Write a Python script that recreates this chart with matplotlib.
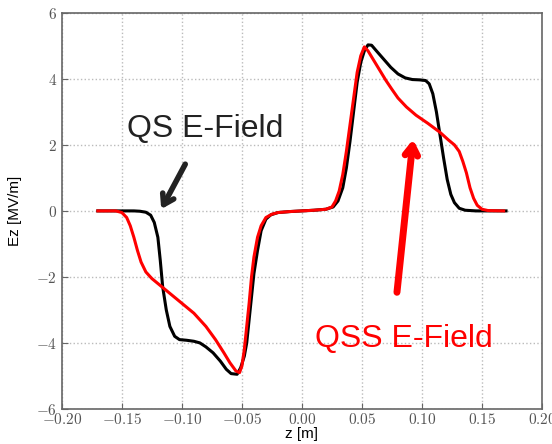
import matplotlib
matplotlib.use("Agg")
import matplotlib.pyplot as plt
from matplotlib.ticker import FuncFormatter

plt.rcParams['mathtext.fontset'] = 'cm'

# QS E-field (black)
qs_z = [-0.170, -0.140, -0.135, -0.130, -0.126, -0.123, -0.120, -0.118, -0.116, -0.113,
        -0.110, -0.106, -0.102, -0.096, -0.090, -0.085, -0.080, -0.074, -0.068, -0.063,
        -0.059, -0.054, -0.051, -0.048, -0.046, -0.044, -0.042, -0.040, -0.037, -0.034,
        -0.030, -0.026, -0.020, -0.010, 0.0, 0.010, 0.020, 0.026, 0.030, 0.034,
        0.037, 0.040, 0.043, 0.046, 0.049, 0.052, 0.055, 0.058, 0.062, 0.068,
        0.074, 0.080, 0.086, 0.092, 0.098, 0.103, 0.106, 0.109, 0.112, 0.115,
        0.118, 0.121, 0.124, 0.127, 0.131, 0.136, 0.145, 0.170]
qs_e = [0.0, 0.0, -0.01, -0.04, -0.13, -0.35, -0.8, -1.5, -2.3, -3.0,
        -3.5, -3.8, -3.9, -3.92, -3.95, -4.0, -4.12, -4.3, -4.55, -4.8,
        -4.93, -4.95, -4.75, -4.4, -4.0, -3.3, -2.6, -1.9, -1.2, -0.6,
        -0.25, -0.12, -0.05, -0.02, 0.0, 0.02, 0.05, 0.12, 0.3, 0.7,
        1.3, 2.1, 3.0, 3.9, 4.5, 4.85, 5.03, 5.02, 4.85, 4.6,
        4.35, 4.15, 4.03, 3.98, 3.97, 3.95, 3.85, 3.55, 3.0, 2.3,
        1.6, 0.95, 0.5, 0.25, 0.08, 0.02, 0.0, 0.0]

# QSS E-field (red)
qss_z = [-0.170, -0.155, -0.150, -0.146, -0.143, -0.140, -0.137, -0.134, -0.130, -0.125,
         -0.120, -0.115, -0.110, -0.100, -0.090, -0.080, -0.072, -0.065, -0.060, -0.055,
         -0.052, -0.050, -0.048, -0.046, -0.044, -0.042, -0.040, -0.037, -0.034, -0.030,
         -0.025, -0.020, -0.010, 0.0, 0.010, 0.020, 0.025, 0.028, 0.031, 0.034,
         0.037, 0.040, 0.043, 0.046, 0.049, 0.052, 0.055, 0.060, 0.065, 0.070,
         0.075, 0.080, 0.087, 0.095, 0.105, 0.115, 0.122, 0.127, 0.131, 0.134,
         0.137, 0.140, 0.143, 0.146, 0.150, 0.155, 0.168]
qss_e = [0.0, 0.0, -0.05, -0.2, -0.45, -0.8, -1.2, -1.55, -1.85, -2.05,
         -2.2, -2.35, -2.5, -2.8, -3.1, -3.5, -3.9, -4.3, -4.6, -4.85,
         -4.9, -4.7, -4.2, -3.5, -2.8, -2.0, -1.4, -0.8, -0.45, -0.2,
         -0.1, -0.05, -0.02, 0.0, 0.02, 0.05, 0.12, 0.3, 0.6, 1.1,
         1.8, 2.6, 3.4, 4.2, 4.7, 4.97, 4.85, 4.55, 4.25, 3.95,
         3.68, 3.42, 3.15, 2.9, 2.65, 2.38, 2.15, 2.0, 1.8, 1.5,
         1.15, 0.7, 0.38, 0.17, 0.05, 0.01, 0.0]

fig = plt.figure(figsize=(5.52, 4.44), dpi=100)
ax = fig.add_axes([0.112, 0.079, 0.870, 0.892])

ax.plot(qs_z, qs_e, color='black', lw=2.2)
ax.plot(qss_z, qss_e, color='red', lw=2.2)

ax.set_xlim(-0.2, 0.2)
ax.set_ylim(-6, 6)
ax.set_xticks([-0.2, -0.15, -0.1, -0.05, 0.0, 0.05, 0.1, 0.15, 0.2])
ax.set_yticks([-6, -4, -2, 0, 2, 4, 6])
ax.xaxis.set_major_formatter(FuncFormatter(lambda v, p: '$%.2f$' % v if abs(v) > 1e-9 else '$0.00$'))
ax.yaxis.set_major_formatter(FuncFormatter(lambda v, p: '$%d$' % v))
ax.tick_params(direction='in', colors='#666666', labelsize=11, labelcolor='#555555', length=4)
ax.tick_params(axis='x', pad=2)
ax.grid(True, linestyle=':', color='#bbbbbb', lw=1)
for s in ax.spines.values():
    s.set_color('#666666')
    s.set_linewidth(1.2)

ax.set_xlabel('z [m]', fontsize=11, family='Liberation Sans', labelpad=0)
ax.set_ylabel('Ez [MV/m]', fontsize=11, family='Liberation Sans', labelpad=10)

# annotations
ax.text(-0.146, 2.25, 'QS E-Field', fontsize=23, family='Liberation Sans', color='#222222')
ax.annotate('', xy=(-0.1183, -0.02), xytext=(-0.0961, 1.49),
            arrowprops=dict(arrowstyle='->,head_length=0.7,head_width=0.45', color='#222222', lw=4))
ax.text(0.0108, -4.11, 'QSS E-Field', fontsize=23, family='Liberation Sans', color='red')
ax.annotate('', xy=(0.0928, 2.25), xytext=(0.0789, -2.55),
            arrowprops=dict(arrowstyle='->,head_length=0.7,head_width=0.45', color='red', lw=5))

fig.savefig('out.png', dpi=100)
